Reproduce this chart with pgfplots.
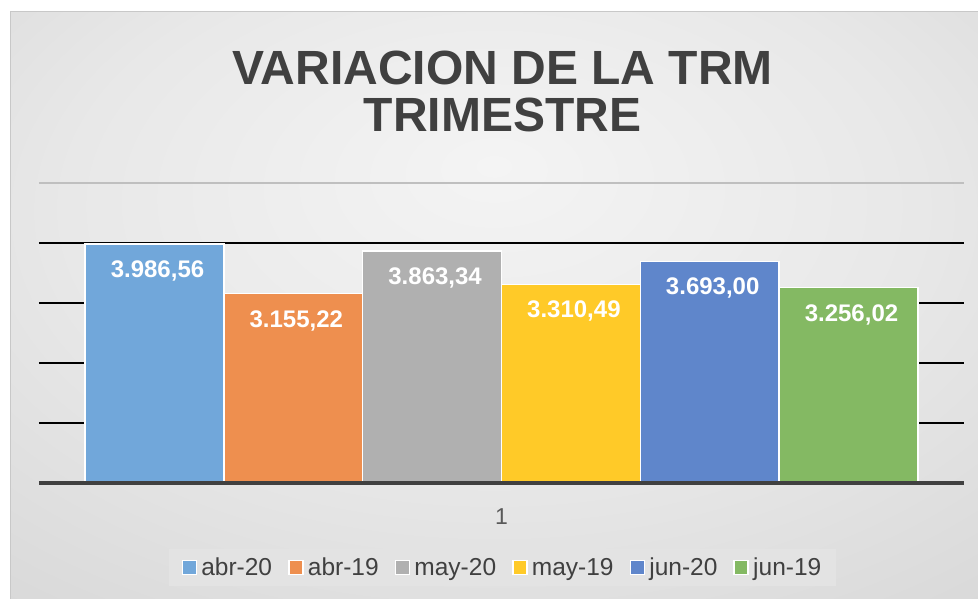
\documentclass[border=0pt]{standalone}
\usepackage{pgfplots}
\pgfplotsset{compat=1.18}
\usepackage{fontspec}
\setmainfont{Liberation Sans}
\definecolor{titlegray}{HTML}{404040}
\definecolor{tickgray}{HTML}{595959}
\definecolor{legfill}{HTML}{E3E3E3}
\definecolor{topline}{HTML}{BFBFBF}
\definecolor{borderc}{HTML}{C8C8C8}
\definecolor{cA}{HTML}{71A7DA}
\definecolor{cB}{HTML}{EE8F4F}
\definecolor{cC}{HTML}{B0B0B0}
\definecolor{cD}{HTML}{FFCA28}
\definecolor{cE}{HTML}{5F86CB}
\definecolor{cF}{HTML}{84B963}
\definecolor{bg0}{HTML}{F4F4F4}
\definecolor{bg1}{HTML}{E8E8E8}
\definecolor{bg2}{HTML}{D2D2D2}
\definecolor{bg3}{HTML}{C4C4C4}
\pgfdeclareradialshading{chartbg}{\pgfpoint{0bp}{12bp}}{color(0bp)=(bg0); color(22bp)=(bg1); color(48bp)=(bg2); color(72bp)=(bg3)}
\begin{document}
\begin{tikzpicture}[x=1pt,y=1pt]
\useasboundingbox (0,0) rectangle (978,599);
\fill[white] (0,0) rectangle (978,599);
\shade[shading=chartbg] (10,0) rectangle (978,587);
\draw[color=borderc, line width=1pt] (10,0) -- (10,587) -- (978,587);
\node[anchor=base, font=\bfseries\fontsize{48}{48}\selectfont, text=titlegray, inner sep=0pt] at (502.5,514) {VARIACION DE LA TRM};
\node[anchor=base, font=\bfseries\fontsize{48}{48}\selectfont, text=titlegray, inner sep=0pt] at (502.5,467) {TRIMESTRE};
\begin{axis}[
  at={(39pt,116pt)}, anchor=south west,
  scale only axis, width=925pt, height=300pt,
  xmin=0.5, xmax=1.5, ymin=0, ymax=5000,
  enlargelimits=false, clip=false,
  ybar=0pt, bar width=138.8pt,
  axis line style={draw=none},
  tick style={draw=none}, major tick length=0pt,
  xtick={1}, xticklabels={1},
  xticklabel style={font=\fontsize{23}{23}\selectfont, text=tickgray, anchor=center, yshift=-34pt},
  ytick={1000,2000,3000,4000}, yticklabels={},
  ymajorgrids, grid style={black, line width=1.5pt},
  extra y ticks={5000}, extra y tick labels={},
  extra y tick style={grid style={topline, line width=2pt}},
  nodes near coords={\pgfmathprintnumber[fixed, fixed zerofill, precision=2, use comma, 1000 sep={.}, assume math mode=true]{\pgfplotspointmeta}},
  every node near coord/.append style={font=\bfseries\fontsize{24}{24}\selectfont, text=white, anchor=center, yshift=-27pt, xshift=3pt},
  legend style={at={(0.501,-0.2817)}, anchor=center, legend columns=6, draw=none, fill=legfill,
    font=\fontsize{24.5}{24.5}\selectfont, text=titlegray, inner xsep=13pt, inner ysep=7pt,
    /tikz/every even column/.append style={column sep=14pt}},
  legend image code/.code={\draw[#1, line width=1.5pt] (0pt,-7pt) rectangle (14pt,7pt); \path[draw=none, fill=none] (0pt,0pt) -- (17pt,0pt);},
]
\addplot[fill=cA, draw=white, line width=1.5pt] coordinates {(1,3986.56)};
\addplot[fill=cB, draw=white, line width=1.5pt] coordinates {(1,3155.22)};
\addplot[fill=cC, draw=white, line width=1.5pt] coordinates {(1,3863.34)};
\addplot[fill=cD, draw=white, line width=1.5pt] coordinates {(1,3310.49)};
\addplot[fill=cE, draw=white, line width=1.5pt] coordinates {(1,3693.00)};
\addplot[fill=cF, draw=white, line width=1.5pt] coordinates {(1,3256.02)};
\legend{abr-20,abr-19,may-20,may-19,jun-20,jun-19}
\draw[color=titlegray, line width=4pt] (rel axis cs:0,0) -- (rel axis cs:1,0);
\end{axis}
\end{tikzpicture}
\end{document}
